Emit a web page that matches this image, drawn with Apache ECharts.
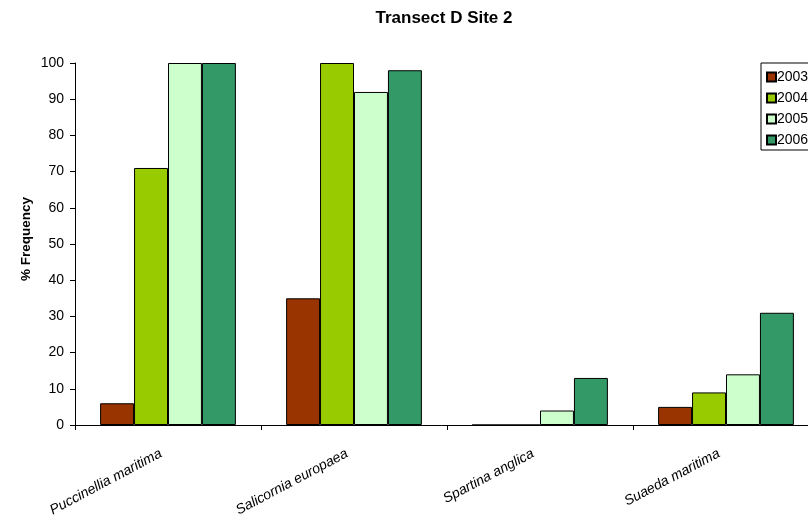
<!DOCTYPE html>
<html>
<head>
<meta charset="utf-8">
<script src="https://cdn.jsdelivr.net/npm/echarts@6/dist/echarts.min.js"></script>
<style>html,body{margin:0;padding:0;background:#fff;}#c{width:808px;height:522px;}</style>
</head>
<body>
<div id="c"></div>
<script>
const categories = ['Puccinellia maritima', 'Salicornia europaea', 'Spartina anglica', 'Suaeda maritima'];
const years = ['2003', '2004', '2005', '2006'];
const v2003 = [6, 35, 0, 5];
const v2004 = [71, 100, 0, 9];
const v2005 = [100, 92, 4, 14];
const v2006 = [100, 98, 13, 31];
const colors = ['#993300', '#99CC00', '#CCFFCC', '#339966'];
const yTicks = [0, 10, 20, 30, 40, 50, 60, 70, 80, 90, 100];

const font = '"Liberation Sans", Arial, sans-serif';
const values = [v2003, v2004, v2005, v2006];
const chart = echarts.init(document.getElementById('c'));
chart.setOption({
  animation: false,
  backgroundColor: '#fff',
  title: {
    text: 'Transect D Site 2',
    left: 439, top: 5, textAlign: 'center',
    textStyle: { fontFamily: font, fontSize: 17, fontWeight: 'bold', color: '#000' }
  },
  legend: {
    orient: 'vertical',
    left: 761, top: 63,
    data: years,
    icon: 'rect',
    itemWidth: 9, itemHeight: 9, itemGap: 7,
    padding: [7, 20, 3, 5],
    borderColor: '#000', borderWidth: 1,
    textStyle: { fontFamily: font, fontSize: 14, color: '#000', padding: [0, 0, 0, -4] }
  },
  grid: { left: 75, top: 63, width: 744, height: 362, containLabel: false, outerBoundsMode: 'none' },
  xAxis: {
    type: 'category',
    data: categories,
    axisLine: { lineStyle: { color: '#000', width: 1 } },
    axisTick: { show: true, alignWithLabel: false, length: 5, lineStyle: { color: '#000' } },
    axisLabel: { rotate: 28, margin: 24, padding: [0, 8, 0, 0], fontFamily: font, fontSize: 14, fontStyle: 'italic', color: '#000', interval: 0 },
    splitLine: { show: false }
  },
  yAxis: {
    type: 'value',
    min: yTicks[0], max: yTicks[yTicks.length - 1], interval: 10,
    name: '% Frequency',
    nameLocation: 'middle', nameGap: 42, nameMoveOverlap: false,
    nameTextStyle: { fontFamily: font, fontSize: 13.5, fontWeight: 'bold', color: '#000', padding: [0, 0, 0, 10] },
    axisLine: { show: true, lineStyle: { color: '#000', width: 1 } },
    axisTick: { show: true, length: 5, lineStyle: { color: '#000' } },
    axisLabel: { margin: 11, fontFamily: font, fontSize: 14, color: '#000' },
    splitLine: { show: false }
  },
  series: years.map((y, i) => ({
    name: y,
    type: 'bar',
    data: values[i],
    barGap: '0%',
    barCategoryGap: '27%',
    itemStyle: { color: colors[i], borderColor: '#000', borderWidth: 1 }
  }))
});
</script>
</body>
</html>
